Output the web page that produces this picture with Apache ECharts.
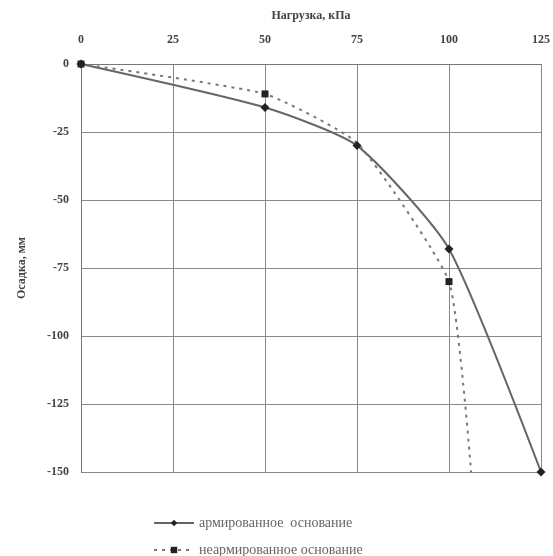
<!DOCTYPE html>
<html>
<head>
<meta charset="utf-8">
<script src="https://cdn.jsdelivr.net/npm/echarts@6/dist/echarts.min.js"></script>
<style>
  html, body { margin: 0; padding: 0; background: #fff; }
  #chart { width: 553px; height: 556px; }
</style>
</head>
<body>
<div id="chart"></div>
<script>
// нагрузка, кПа / осадка, мм
const reinforcedX = [0, 50, 75, 100, 125]
const reinforcedY = [0, -16, -30, -68, -150]
const plainX = [0, 50, 75, 100, 106]
const plainY = [0, -11, -29, -80, -150]
const plainMarks = [true, true, false, true, false]

const names = ['армированное  основание', 'неармированное основание']
const font = 'Liberation Serif'

const chart = echarts.init(document.getElementById('chart'))

const legendBase = {
  left: 153,
  padding: 0,
  itemWidth: 40,
  itemHeight: 8,
  textStyle: { fontFamily: font, fontSize: 14, color: '#666' }
}

chart.setOption({
  animation: false,
  grid: { left: 81, right: 12, top: 64, bottom: 84 },
  legend: [
    Object.assign({ top: 516, data: [names[0]] }, legendBase),
    Object.assign({ top: 543, data: [names[1]] }, legendBase)
  ],
  xAxis: {
    type: 'value',
    position: 'top',
    min: 0,
    max: 125,
    interval: 25,
    name: 'Нагрузка, кПа',
    nameLocation: 'middle',
    nameGap: 42,
    nameTextStyle: { fontFamily: font, fontSize: 12, fontWeight: 'bold', color: '#444' },
    axisLine: { lineStyle: { color: '#777', width: 1 } },
    axisTick: { show: false },
    axisLabel: { fontFamily: font, fontSize: 12, fontWeight: 'bold', color: '#444', margin: 18 },
    splitLine: { lineStyle: { color: '#888', width: 1 } }
  },
  yAxis: {
    type: 'value',
    min: -150,
    max: 0,
    interval: 25,
    name: 'Осадка, мм',
    nameLocation: 'middle',
    nameGap: 53,
    nameTextStyle: { fontFamily: font, fontSize: 12, fontWeight: 'bold', color: '#444' },
    axisLine: { show: true, lineStyle: { color: '#777', width: 1 } },
    axisTick: { show: false },
    axisLabel: { fontFamily: font, fontSize: 12, fontWeight: 'bold', color: '#444', margin: 12 },
    splitLine: { lineStyle: { color: '#888', width: 1 } }
  },
  series: [{
    name: names[0],
    type: 'line',
    smooth: 0.2,
    symbol: 'diamond',
    symbolSize: 9,
    itemStyle: { color: '#222' },
    lineStyle: { color: '#666', width: 2 },
    data: reinforcedX.map((x, i) => [x, reinforcedY[i]])
  }, {
    name: names[1],
    type: 'line',
    smooth: 0.15,
    symbol: 'rect',
    symbolSize: 7,
    itemStyle: { color: '#222' },
    lineStyle: { color: '#777', width: 2, type: [3, 5] },
    data: plainX.map((x, i) => ({
      value: [x, plainY[i]],
      symbol: plainMarks[i] ? 'rect' : 'none'
    }))
  }]
})
</script>
</body>
</html>
